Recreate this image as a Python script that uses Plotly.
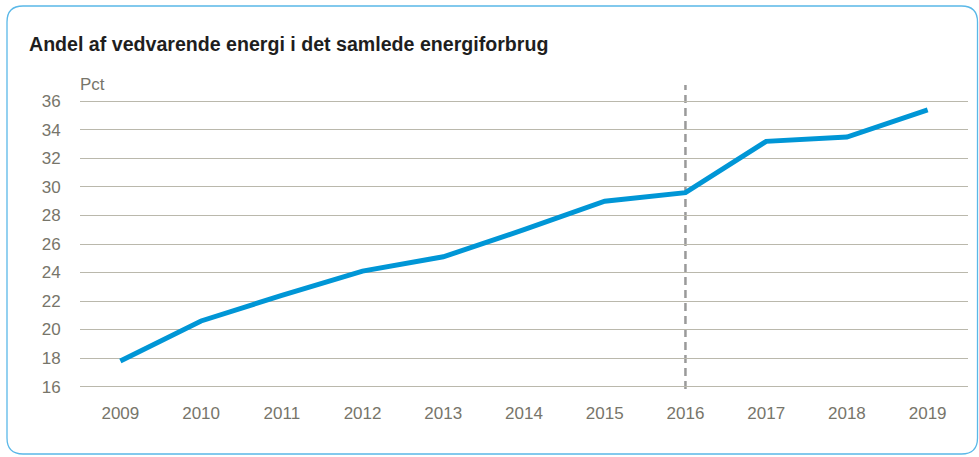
import plotly.graph_objects as go

years = ["2009", "2010", "2011", "2012", "2013", "2014", "2015", "2016", "2017", "2018", "2019"]
share = [17.8, 20.6, 22.4, 24.1, 25.1, 27.0, 29.0, 29.6, 33.2, 33.5, 35.4]
y_ticks = [16, 18, 20, 22, 24, 26, 28, 30, 32, 34, 36]
title_text = "Andel af vedvarende energi i det samlede energiforbrug"
unit_text = "Pct"
marker_year = "2016"

W, H = 979, 457
L, R, T, B = 80, 11, 100, 69
PW, PH = W - L - R, H - T - B

def px(x):
    return (x - L) / PW

def py(y):
    return (H - B - y) / PH

FONT = "Liberation Sans, Arial, sans-serif"
GREY = "#77756a"
GRID = "#bab8ac"

fig = go.Figure()
fig.add_trace(go.Scatter(
    x=years, y=share, mode="lines",
    line=dict(color="#0096d6", width=5),
    hoverinfo="x+y", showlegend=False,
))

# rounded border
x0, x1, y0, y1, r = 7, 977.5, 6, 454, 16
path = (
    f"M {px(x0 + r)} {py(y0)} L {px(x1 - r)} {py(y0)} "
    f"Q {px(x1)} {py(y0)} {px(x1)} {py(y0 + r)} "
    f"L {px(x1)} {py(y1 - r)} Q {px(x1)} {py(y1)} {px(x1 - r)} {py(y1)} "
    f"L {px(x0 + r)} {py(y1)} Q {px(x0)} {py(y1)} {px(x0)} {py(y1 - r)} "
    f"L {px(x0)} {py(y0 + r)} Q {px(x0)} {py(y0)} {px(x0 + r)} {py(y0)} Z"
)
fig.add_shape(type="path", path=path, xref="paper", yref="paper",
              line=dict(color="#5ab8e8", width=1.3), layer="below")

# dashed vertical marker (under the data line)
mi = years.index(marker_year)
fig.add_shape(type="line", xref="x", yref="paper",
              x0=mi, x1=mi, y0=py(389), y1=py(85), layer="between",
              line=dict(color="#9a9a9a", width=2.5, dash="8px,5px"))

fig.add_annotation(text=title_text, xref="paper", yref="paper",
                   x=px(27), y=py(44), xanchor="left", yanchor="middle",
                   showarrow=False,
                   font=dict(family=FONT, size=19.6, color="#1e1e1e", weight="bold"))
fig.add_annotation(text=unit_text, xref="paper", yref="paper",
                   x=px(78), y=py(84), xanchor="left", yanchor="middle",
                   showarrow=False,
                   font=dict(family=FONT, size=17, color=GREY))

fig.update_layout(
    width=W, height=H,
    margin=dict(l=L, r=R, t=T, b=B, pad=0, autoexpand=False),
    paper_bgcolor="white", plot_bgcolor="white",
    font=dict(family=FONT, size=17, color=GREY),
    xaxis=dict(
        type="category", range=[-0.5, 10.5], automargin=False,
        showgrid=False, showline=False, zeroline=False,
        ticks="outside", ticklen=10, tickcolor="rgba(0,0,0,0)",
        tickfont=dict(family=FONT, size=17, color=GREY),
    ),
    yaxis=dict(
        range=[15.9, 36.1], tickvals=y_ticks, automargin=False,
        showgrid=True, gridcolor=GRID, gridwidth=1.2,
        showline=False, zeroline=False,
        ticks="outside", ticklen=15, tickcolor="rgba(0,0,0,0)",
        tickfont=dict(family=FONT, size=17, color=GREY),
    ),
)

fig.write_html(
    "out.html",
    config={"displayModeBar": False},
    post_script="document.body.style.margin='0';document.body.style.overflow='hidden';",
)
